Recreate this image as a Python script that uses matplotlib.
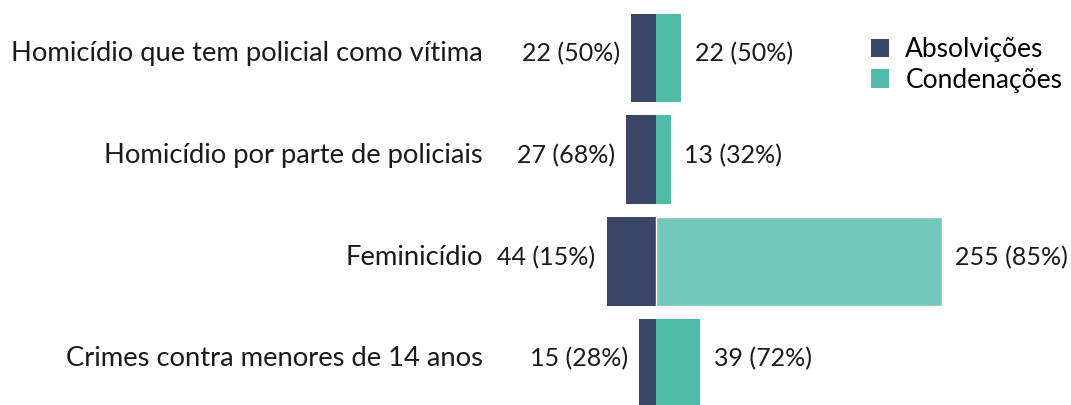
import matplotlib
matplotlib.use("Agg")
import matplotlib.pyplot as plt
from matplotlib.patches import Patch

categories = ["Homicídio que tem policial como vítima",
              "Homicídio por parte de policiais",
              "Feminicídio",
              "Crimes contra menores de 14 anos"]
absolvicoes = [22, 27, 44, 15]
condenacoes = [22, 13, 255, 39]
abs_pct = [50, 68, 15, 28]
cond_pct = [50, 32, 85, 72]

navy = "#3a4667"
teal = "#50bba7"
teal_light = "#72c9b9"
txt = "#1a1a1a"

plt.rcParams['font.family'] = ['Lato', 'DejaVu Sans']
fs_cat = 19.7
fs_val = 18
fs_leg = 19

fig = plt.figure(figsize=(10.71, 4.05), dpi=100)
ax = fig.add_axes([0, 0, 1, 1])
ppu = 1.12  # pixels per unit
cx = 656
ax.set_xlim(-cx / ppu, (1071 - cx) / ppu)
rowpx = 101.7
top0 = 58
ax.set_ylim((405 - top0) / rowpx, -top0 / rowpx)
ax.axis('off')

ys = list(range(len(categories)))
h = 0.87
cond_colors = [teal, teal, teal_light, teal]
cond_edges = ['none', 'none', 'white', 'none']
ax.barh(ys, [-a for a in absolvicoes], height=h, color=navy, edgecolor='none')
ax.barh(ys, condenacoes, height=h, color=cond_colors, edgecolor=cond_edges, linewidth=1.0)

label_x = (483 - cx) / ppu
for y, cat, a, c, ap, cp in zip(ys, categories, absolvicoes, condenacoes, abs_pct, cond_pct):
    ax.annotate(cat, xy=(label_x, y), xytext=(0, 3), textcoords='offset points',
                ha='right', va='center', fontsize=fs_cat, color=txt)
    ax.annotate(f"{a} ({ap}%)", xy=(-a, y), xytext=(-8, 3), textcoords='offset points',
                ha='right', va='center', fontsize=fs_val, color=txt)
    ax.annotate(f"{c} ({cp}%)", xy=(c, y), xytext=(10, 3), textcoords='offset points',
                ha='left', va='center', fontsize=fs_val, color=txt)

handles = [Patch(facecolor=navy, label="Absolvições"), Patch(facecolor=teal, label="Condenações")]
fig.legend(handles=handles, loc='upper left', bbox_to_anchor=(871 / 1071, 1 - 37 / 405),
           frameon=False, fontsize=fs_leg, handlelength=0.7, handleheight=0.7,
           handletextpad=0.6, labelspacing=0.22, borderpad=0, borderaxespad=0)

fig.savefig("out.png", dpi=100)
